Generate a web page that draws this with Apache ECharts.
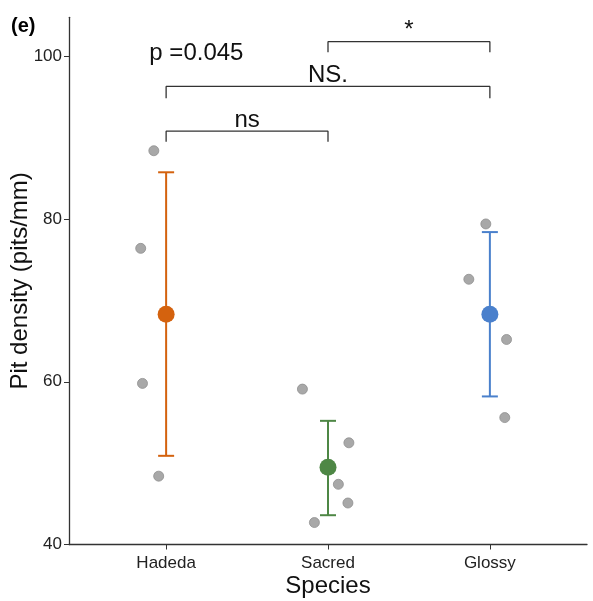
<!DOCTYPE html>
<html>
<head>
<meta charset="utf-8">
<script src="https://cdn.jsdelivr.net/npm/echarts@6/dist/echarts.min.js"></script>
<style>html,body{margin:0;padding:0;background:#fff}#c{width:593px;height:601px}</style>
</head>
<body>
<div id="c"></div>
<script>
// ---- data ----
const categories = ['Hadeda', 'Sacred', 'Glossy'];
const categoryPos = [1, 2, 3];
const groupColors = ['#D4620E', '#4E8745', '#4A80CC'];
const means = [68.3, 49.5, 68.3];
const errLow = [50.9, 43.6, 58.2];
const errHigh = [85.75, 55.2, 78.4];
const hadedaPts = [[0.924, 88.4], [0.843, 76.4], [0.854, 59.8], [0.954, 48.4]];
const sacredPts = [[1.842, 59.1], [2.129, 52.5], [2.064, 47.4], [2.123, 45.1], [1.916, 42.7]];
const glossyPts = [[2.975, 79.4], [2.870, 72.6], [3.103, 65.2], [3.092, 55.6]];
const yTicks = [40, 60, 80, 100];
// significance brackets: [x1, x2, yLine, yTickEnd]
const brackets = [[1, 2, 90.8, 89.5], [1, 3, 96.3, 94.85], [2, 3, 101.8, 100.5]];
const annotations = [
  { text: 'ns', x: 1.5, y: 92.15 },
  { text: 'NS.', x: 2.0, y: 97.65 },
  { text: '*', x: 2.5, y: 103.25 },
  { text: 'p =0.045', x: 1.187, y: 100.35 }
];

const FONT = '"Liberation Sans", Arial, sans-serif';
const chart = echarts.init(document.getElementById('c'), null, { renderer: 'canvas' });

const series = [];
// gray points
series.push({
  type: 'scatter',
  data: hadedaPts.concat(sacredPts, glossyPts),
  symbolSize: 10,
  itemStyle: { color: '#A8A8A8', borderColor: '#8F8F8F', borderWidth: 0.8, opacity: 1 },
  z: 2
});
// error bars
series.push({
  type: 'custom',
  data: categoryPos.map((x, i) => [x, errLow[i], errHigh[i], i]),
  renderItem: function (params, api) {
    const x = api.value(0);
    const lo = api.coord([x, api.value(1)]);
    const hi = api.coord([x, api.value(2)]);
    const col = groupColors[api.value(3)];
    const hw = 8;
    const st = { stroke: col, lineWidth: 2 };
    return {
      type: 'group',
      children: [
        { type: 'line', shape: { x1: lo[0], y1: lo[1], x2: hi[0], y2: hi[1] }, style: st },
        { type: 'line', shape: { x1: lo[0] - hw, y1: lo[1], x2: lo[0] + hw, y2: lo[1] }, style: st },
        { type: 'line', shape: { x1: hi[0] - hw, y1: hi[1], x2: hi[0] + hw, y2: hi[1] }, style: st }
      ]
    };
  },
  z: 3
});
// means
series.push({
  type: 'scatter',
  data: categoryPos.map((x, i) => ({ value: [x, means[i]], itemStyle: { color: groupColors[i], opacity: 1 } })),
  symbolSize: 17,
  itemStyle: { opacity: 1 },
  z: 4
});
// brackets
brackets.forEach(b => {
  series.push({
    type: 'line',
    data: [[b[0], b[3]], [b[0], b[2]], [b[1], b[2]], [b[1], b[3]]],
    symbol: 'none',
    lineStyle: { color: '#333', width: 1.3 },
    z: 1,
    silent: true
  });
});
// annotations
series.push({
  type: 'scatter',
  data: annotations.map(a => ({ value: [a.x, a.y], name: a.text })),
  symbolSize: 1,
  itemStyle: { color: 'rgba(0,0,0,0)', opacity: 1 },
  label: {
    show: true,
    position: 'inside',
    formatter: p => p.name,
    fontFamily: FONT,
    fontSize: 24,
    color: '#111',
    opacity: 1
  },
  silent: true,
  z: 5
});

chart.setOption({
  animation: false,
  backgroundColor: '#fff',
  title: {
    text: '(e)', left: 6, top: 11,
    textStyle: { fontFamily: FONT, fontWeight: 'bold', fontSize: 20, color: '#000' }
  },
  grid: { left: 69, right: 6, top: 17.3, bottom: 56.5, containLabel: false, outerBoundsMode: 'none' },
  xAxis: {
    type: 'value', min: 0.4, max: 3.6,
    name: 'Species', nameLocation: 'middle', nameGap: 30, nameMoveOverlap: false,
    nameTextStyle: { fontFamily: FONT, fontSize: 24, color: '#111', verticalAlign: 'top' },
    axisLine: { show: true, lineStyle: { color: '#333', width: 1.3 } },
    axisTick: { show: true, length: 5, lineStyle: { color: '#333' }, customValues: categoryPos },
    axisLabel: {
      customValues: categoryPos, margin: 10,
      formatter: v => categories[Math.round(v) - 1] || '',
      fontFamily: FONT, fontSize: 17, color: '#222'
    },
    splitLine: { show: false }
  },
  yAxis: {
    type: 'value', min: 40, max: 104.8,
    name: 'Pit density (pits/mm)', nameLocation: 'middle', nameGap: 37, nameMoveOverlap: false,
    nameTextStyle: { fontFamily: FONT, fontSize: 24, color: '#111' },
    axisLine: { show: true, lineStyle: { color: '#333', width: 1.3 } },
    axisTick: { show: true, length: 5, lineStyle: { color: '#333' }, customValues: yTicks },
    axisLabel: { customValues: yTicks, margin: 7, fontFamily: FONT, fontSize: 17, color: '#222' },
    splitLine: { show: false }
  },
  series: series
});
</script>
</body>
</html>
